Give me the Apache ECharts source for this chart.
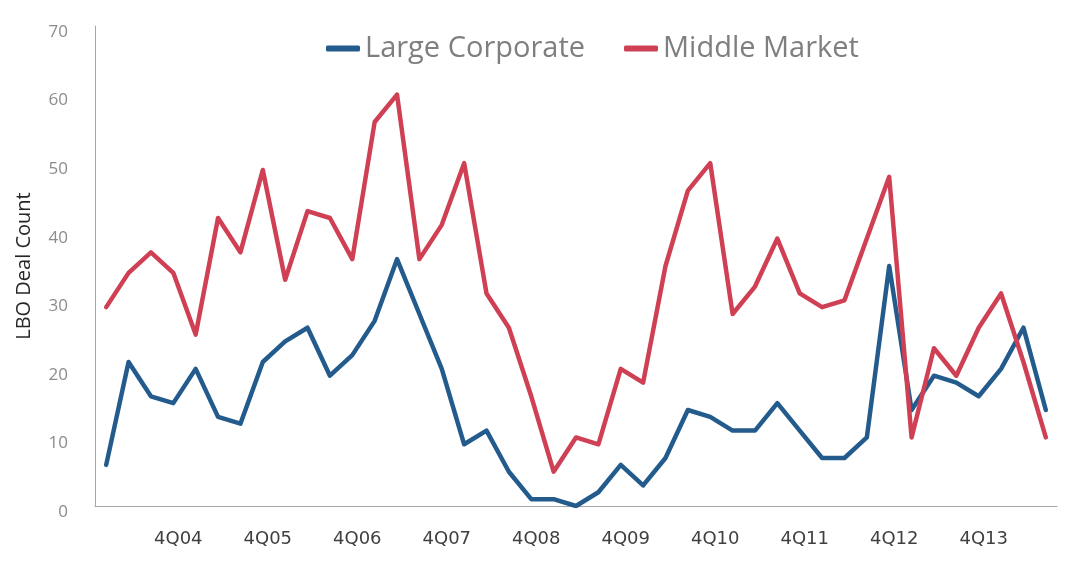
<!DOCTYPE html>
<html lang="en">

<head>
  <meta charset="UTF-8">
  <title>LBO Deal Count</title>
  <script src="https://cdn.jsdelivr.net/npm/echarts@6.0.0/dist/echarts.min.js"></script>
  <style>
    html, body { margin: 0; padding: 0; background: #fff; }
  </style>
</head>

<body>
  <div id="main" style="width:1077px;height:583px;"></div>
  <script type="text/javascript">
    // quarters 1Q04 .. 3Q14
    var quarters = [
      '1Q04', '2Q04', '3Q04', '4Q04', '1Q05', '2Q05', '3Q05', '4Q05',
      '1Q06', '2Q06', '3Q06', '4Q06', '1Q07', '2Q07', '3Q07', '4Q07',
      '1Q08', '2Q08', '3Q08', '4Q08', '1Q09', '2Q09', '3Q09', '4Q09',
      '1Q10', '2Q10', '3Q10', '4Q10', '1Q11', '2Q11', '3Q11', '4Q11',
      '1Q12', '2Q12', '3Q12', '4Q12', '1Q13', '2Q13', '3Q13', '4Q13',
      '1Q14', '2Q14', '3Q14'
    ];

    var largeCorporate = [
      6, 21, 16, 15, 20, 13, 12, 21, 24, 26, 19, 22, 27, 36, 28, 20,
      9, 11, 5, 1, 1, 0, 2, 6, 3, 7, 14, 13, 11, 11, 15, 11,
      7, 7, 10, 35, 14, 19, 18, 16, 20, 26, 14
    ];

    var middleMarket = [
      29, 34, 37, 34, 25, 42, 37, 49, 33, 43, 42, 36, 56, 60, 36, 41,
      50, 31, 26, 16, 5, 10, 9, 20, 18, 35, 46, 50, 28, 32, 39, 31,
      29, 30, 39, 48, 10, 23, 19, 26, 31, 21, 10
    ];

    var myChart = echarts.init(document.getElementById('main'));

    var option = {
      animation: false,
      color: ['#245b8d', '#cf4055'],
      legend: {
        left: 326,
        top: 34,
        padding: 0,
        icon: 'roundRect',
        itemWidth: 34,
        itemHeight: 6,
        itemGap: 39,
        textStyle: {
          fontFamily: 'Open Sans',
          fontSize: 29,
          color: '#7f7f7f'
        }
      },
      grid: {
        left: 95,
        right: 20,
        top: 26,
        bottom: 77
      },
      xAxis: {
        type: 'category',
        data: quarters,
        boundaryGap: true,
        axisLine: {
          lineStyle: { color: '#a6a6a6', width: 1 }
        },
        axisTick: {
          length: 9,
          lineStyle: { color: '#bfbfbf' },
          interval: function(index) {
            return index > 0 && index % 4 === 0;
          }
        },
        axisLabel: {
          interval: function(index) {
            return index % 4 === 3;
          },
          margin: 24,
          padding: [0, 0, 0, 10],
          fontFamily: 'DejaVu Sans',
          fontSize: 18,
          color: '#404040'
        },
        splitLine: { show: false }
      },
      yAxis: {
        type: 'value',
        min: 0,
        max: 70,
        interval: 10,
        name: 'LBO Deal Count',
        nameLocation: 'middle',
        nameGap: 61,
        nameTextStyle: {
          fontFamily: 'Open Sans',
          fontSize: 20,
          color: '#262626'
        },
        axisLine: {
          show: true,
          lineStyle: { color: '#a6a6a6', width: 1 }
        },
        axisTick: { show: false },
        axisLabel: {
          margin: 27,
          verticalAlign: 'top',
          lineHeight: 12,
          fontFamily: 'Open Sans',
          fontSize: 17,
          color: '#8c8c8c'
        },
        splitLine: { show: false }
      },
      series: [{
        name: 'Large Corporate',
        type: 'line',
        data: largeCorporate,
        showSymbol: false,
        symbol: 'none',
        lineStyle: { width: 4.5, join: 'round', cap: 'round' }
      }, {
        name: 'Middle Market',
        type: 'line',
        data: middleMarket,
        showSymbol: false,
        symbol: 'none',
        lineStyle: { width: 4.5, join: 'round', cap: 'round' }
      }]
    };

    myChart.setOption(option);

    window.onresize = function() {
      myChart.resize();
    }
  </script>
</body>

</html>
